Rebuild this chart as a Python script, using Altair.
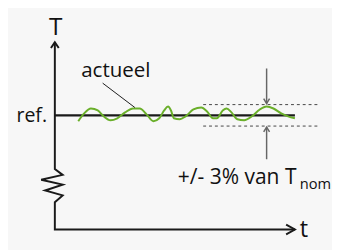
import altair as alt
import pandas as pd

# Diagram units: t (time) to the right, T (temperature) upward; origin at the axes' corner.
wave_t = [24, 30, 37, 44, 50, 57, 64, 72, 80, 87, 94, 101, 107, 112, 116, 119, 122, 128,
          134, 142, 150, 156, 162, 166, 172, 176, 181, 187, 194, 202, 210, 217, 224, 232, 239, 246]
wave_T = [111, 119, 124, 122, 116, 112, 114, 120, 124, 124, 118, 111, 114, 122, 126, 122, 114, 113,
          116, 123, 125, 121, 114, 114, 122, 124, 120, 113, 112, 116, 123, 126, 124, 119, 116, 114]

T_ref = 117
t_end = 246
tol_upper = 128
tol_lower = 106
tol_t = [152, 272]

axis_t = [0, 0, 8, -14, 8, -10, 8, 0, 0, 246]
axis_T = [192, 62, 56, 51, 46, 40, 35, 28, 0, 0]
arrowT_t = [-4, 0, 4]
arrowT_T = [186, 192, 186]
arrowt_t = [237, 246, 237]
arrowt_T = [5, 0, -5]

tol_arrow_t = 217
down_arrow_T = [165, 129]
up_arrow_T = [72, 105]

leader_t = [49, 82]
leader_T = [150, 125]

labels = ["T", "actueel", "ref.", "+/- 3% van T", "nom", "t"]
label_t = [1, 27, -8, 126, 251, 251]
label_T = [199, 156, 110, 47, 42, -8]

FONT = "Open Sans"

xs = alt.Scale(domain=[-48, 284], nice=False, zero=False)
ys = alt.Scale(domain=[-18, 224], nice=False, zero=False)


def path(segs):
    rows = []
    for k, (ts, Ts) in enumerate(segs):
        for i, (a, b) in enumerate(zip(ts, Ts)):
            rows.append({"seg": k, "i": i, "t": a, "T": b})
    return pd.DataFrame(rows)


def line_layer(df, color, width, dash=None):
    kw = dict(color=color, strokeWidth=width, clip=False)
    if dash:
        kw["strokeDash"] = dash
    return alt.Chart(df).mark_line(**kw).encode(
        x=alt.X("t:Q", scale=xs, axis=None),
        y=alt.Y("T:Q", scale=ys, axis=None),
        detail="seg:N",
        order="i:Q",
    )


axes = line_layer(path([(axis_t, axis_T), (arrowT_t, arrowT_T), (arrowt_t, arrowt_T)]), "#1a1a1a", 2)
ref = line_layer(path([([0, t_end], [T_ref, T_ref])]), "#1a1a1a", 2.2)
wave = alt.Chart(path([(wave_t, wave_T)])).mark_line(
    color="#6aaf2a", strokeWidth=2, interpolate="monotone", clip=False
).encode(
    x=alt.X("t:Q", scale=xs, axis=None),
    y=alt.Y("T:Q", scale=ys, axis=None),
    order="i:Q",
)
dashed = line_layer(path([(tol_t, [tol_upper, tol_upper]), (tol_t, [tol_lower, tol_lower])]),
                    "#444444", 1, dash=[3, 3])
a = tol_arrow_t
tol_arrows = line_layer(path([
    ([a, a], down_arrow_T),
    ([a - 3, a, a + 3], [down_arrow_T[1] + 5, down_arrow_T[1], down_arrow_T[1] + 5]),
    ([a, a], up_arrow_T),
    ([a - 3, a, a + 3], [up_arrow_T[1] - 5, up_arrow_T[1], up_arrow_T[1] - 5]),
]), "#666666", 1.5)
leader = line_layer(path([(leader_t, leader_T)]), "#1a1a1a", 1)

lab = pd.DataFrame({"label": labels, "t": label_t, "T": label_T})
styles = {
    "T": dict(size=25, align="center"),
    "actueel": dict(size=21, align="left"),
    "ref.": dict(size=20, align="right"),
    "+/- 3% van T": dict(size=21.5, align="left"),
    "nom": dict(size=15, align="left"),
    "t": dict(size=24, align="left"),
}
texts = []
for name, st in styles.items():
    texts.append(
        alt.Chart(lab[lab["label"] == name]).mark_text(
            font=FONT, color="#111111", baseline="alphabetic", clip=False, **st
        ).encode(
            x=alt.X("t:Q", scale=xs, axis=None),
            y=alt.Y("T:Q", scale=ys, axis=None),
            text="label:N",
        )
    )

chart = alt.layer(dashed, ref, wave, axes, tol_arrows, leader, *texts).properties(
    width=332, height=242, padding=0, background="#f7f7f7",
    autosize=alt.AutoSizeParams(type="none"),
).configure_view(stroke=None)

chart.save("out.html", embed_options={"renderer": "svg", "actions": False})
